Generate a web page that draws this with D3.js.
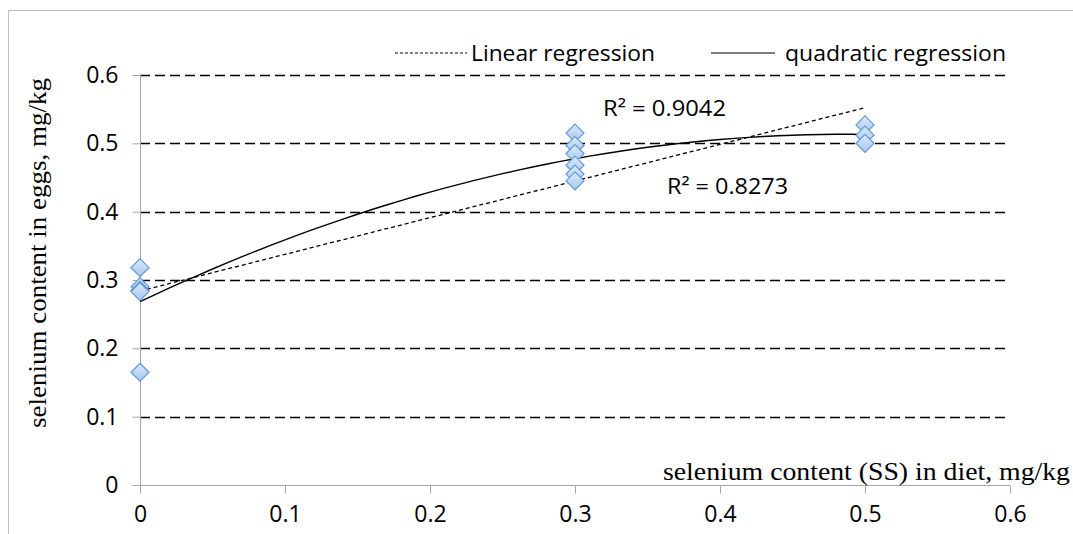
<!DOCTYPE html>
<html lang="en">
<head>
<meta charset="UTF-8">
<title>Selenium content in eggs</title>
<script src="https://d3js.org/d3.v7.min.js"></script>
<style>
  body { margin: 0; padding: 0; background: #fff; }
</style>
</head>
<body>
<div id="chart"></div>
<script>
const dietLevels = [0, 0.3, 0.5];
const eggsAt0 = [0.318, 0.290, 0.285, 0.283, 0.165];
const eggsAt03 = [0.515, 0.497, 0.485, 0.468, 0.455, 0.445];
const eggsAt05 = [0.527, 0.512, 0.500];
const xTicks = [0, 0.1, 0.2, 0.3, 0.4, 0.5, 0.6];
const yTicks = [0, 0.1, 0.2, 0.3, 0.4, 0.5, 0.6];
const r2Linear = "R² = 0.8273";
const r2Quad = "R² = 0.9042";

const points = [];
[eggsAt0, eggsAt03, eggsAt05].forEach((arr, i) => arr.forEach(v => points.push({x: dietLevels[i], y: v})));

const W = 1073, H = 534;
const margin = {top: 75, right: 63, bottom: 49, left: 140};
const lab = "'Open Sans', 'Noto Sans', sans-serif";
const serif = "'Liberation Serif', 'Times New Roman', serif";

const svg = d3.select("#chart").append("svg")
  .attr("width", W).attr("height", H);

// frame
svg.append("path").attr("d", `M8.5,${H} V10.5 H${W}`)
  .attr("fill", "none").attr("stroke", "#bdbdbd").attr("stroke-width", 1);

const x = d3.scaleLinear().domain([0, 0.6]).range([margin.left, W - margin.right]);
const y = d3.scaleLinear().domain([0, 0.6]).range([H - margin.bottom, margin.top]);

// gridlines
svg.append("g").selectAll("line").data(yTicks.filter(d => d > 0)).join("line")
  .attr("x1", x(0)).attr("x2", x(0.6))
  .attr("y1", d => Math.round(y(d)) + 0.5).attr("y2", d => Math.round(y(d)) + 0.5)
  .attr("stroke", "#000").attr("stroke-width", 1.5).attr("stroke-dasharray", "10,5");

// axes
const xAxis = svg.append("g").attr("transform", `translate(0,${Math.round(y(0)) + 0.5})`)
  .call(d3.axisBottom(x).tickValues(xTicks).tickFormat(d3.format("")).tickSize(8).tickPadding(12));
const yAxis = svg.append("g").attr("transform", `translate(${Math.round(x(0)) + 0.5},0)`)
  .call(d3.axisLeft(y).tickValues(yTicks).tickFormat(d3.format("")).tickSize(8).tickPadding(14));
[xAxis, yAxis].forEach(a => {
  a.attr("font-family", lab);
  a.select(".domain").remove();
  a.selectAll("line").attr("stroke", "#a6a6a6");
  a.selectAll("text").attr("font-size", 23).attr("fill", "#000");
});
svg.append("line").attr("x1", x(0)).attr("x2", x(0.6))
  .attr("y1", Math.round(y(0)) + 0.5).attr("y2", Math.round(y(0)) + 0.5).attr("stroke", "#a6a6a6");
svg.append("line").attr("x1", Math.round(x(0)) + 0.5).attr("x2", Math.round(x(0)) + 0.5)
  .attr("y1", y(0.6)).attr("y2", y(0) + 8).attr("stroke", "#a6a6a6");

// least squares fits
function fit(deg) {
  const n = deg + 1;
  const A = Array.from({length: n}, () => Array(n + 1).fill(0));
  points.forEach(p => {
    for (let i = 0; i < n; i++) {
      for (let j = 0; j < n; j++) A[i][j] += Math.pow(p.x, i + j);
      A[i][n] += p.y * Math.pow(p.x, i);
    }
  });
  for (let i = 0; i < n; i++) {
    for (let k = i + 1; k < n; k++) {
      const f = A[k][i] / A[i][i];
      for (let j = i; j <= n; j++) A[k][j] -= f * A[i][j];
    }
  }
  const c = Array(n).fill(0);
  for (let i = n - 1; i >= 0; i--) {
    let s = A[i][n];
    for (let j = i + 1; j < n; j++) s -= A[i][j] * c[j];
    c[i] = s / A[i][i];
  }
  return t => c.reduce((s, ci, i) => s + ci * Math.pow(t, i), 0);
}
const linFn = fit(1), quadFn = fit(2);
const xs = d3.range(0, 0.5001, 0.01);

svg.append("path")
  .attr("d", d3.line().x(d => x(d)).y(d => y(linFn(d)))(xs))
  .attr("fill", "none").attr("stroke", "#000").attr("stroke-width", 1.3).attr("stroke-dasharray", "4,3");
svg.append("path")
  .attr("d", d3.line().x(d => x(d)).y(d => y(quadFn(d)))(xs))
  .attr("fill", "none").attr("stroke", "#000").attr("stroke-width", 1.4);

// markers
const grad = svg.append("defs").append("linearGradient").attr("id", "mk")
  .attr("x1", 0).attr("y1", 0).attr("x2", 0).attr("y2", 1);
grad.append("stop").attr("offset", "0%").attr("stop-color", "#dce9fa");
grad.append("stop").attr("offset", "100%").attr("stop-color", "#a4c6f0");
svg.append("g").selectAll("path").data(points).join("path")
  .attr("transform", d => `translate(${x(d.x)},${y(d.y)})`)
  .attr("d", "M0,-9 L9,0 L0,9 L-9,0 Z")
  .attr("fill", "url(#mk)").attr("stroke", "#5f97d6").attr("stroke-width", 1.2);

// R² labels
svg.append("text").attr("x", 603).attr("y", 116).text(r2Quad)
  .attr("font-family", lab).attr("font-size", 22).attr("textLength", 123).attr("lengthAdjust", "spacingAndGlyphs");
svg.append("text").attr("x", 667).attr("y", 194).text(r2Linear)
  .attr("font-family", lab).attr("font-size", 22).attr("textLength", 121).attr("lengthAdjust", "spacingAndGlyphs");

// legend
svg.append("line").attr("x1", 395).attr("x2", 467).attr("y1", 53).attr("y2", 53)
  .attr("stroke", "#000").attr("stroke-dasharray", "3,2");
svg.append("text").attr("x", 471).attr("y", 61).text("Linear regression")
  .attr("font-family", lab).attr("font-size", 22).attr("textLength", 184).attr("lengthAdjust", "spacingAndGlyphs");
svg.append("line").attr("x1", 711).attr("x2", 775).attr("y1", 53).attr("y2", 53)
  .attr("stroke", "#000").attr("stroke-width", 1.2);
svg.append("text").attr("x", 785).attr("y", 61).text("quadratic regression")
  .attr("font-family", lab).attr("font-size", 22).attr("textLength", 221).attr("lengthAdjust", "spacingAndGlyphs");

// axis titles
svg.append("text").attr("x", 663).attr("y", 480).text("selenium content (SS) in diet, mg/kg")
  .attr("font-family", serif).attr("font-size", 25).attr("textLength", 407).attr("lengthAdjust", "spacingAndGlyphs");
svg.append("text").attr("transform", "translate(46,253) rotate(-90)")
  .attr("text-anchor", "middle").text("selenium content in eggs, mg/kg")
  .attr("font-family", serif).attr("font-size", 25).attr("textLength", 350).attr("lengthAdjust", "spacingAndGlyphs");
</script>
</body>
</html>
